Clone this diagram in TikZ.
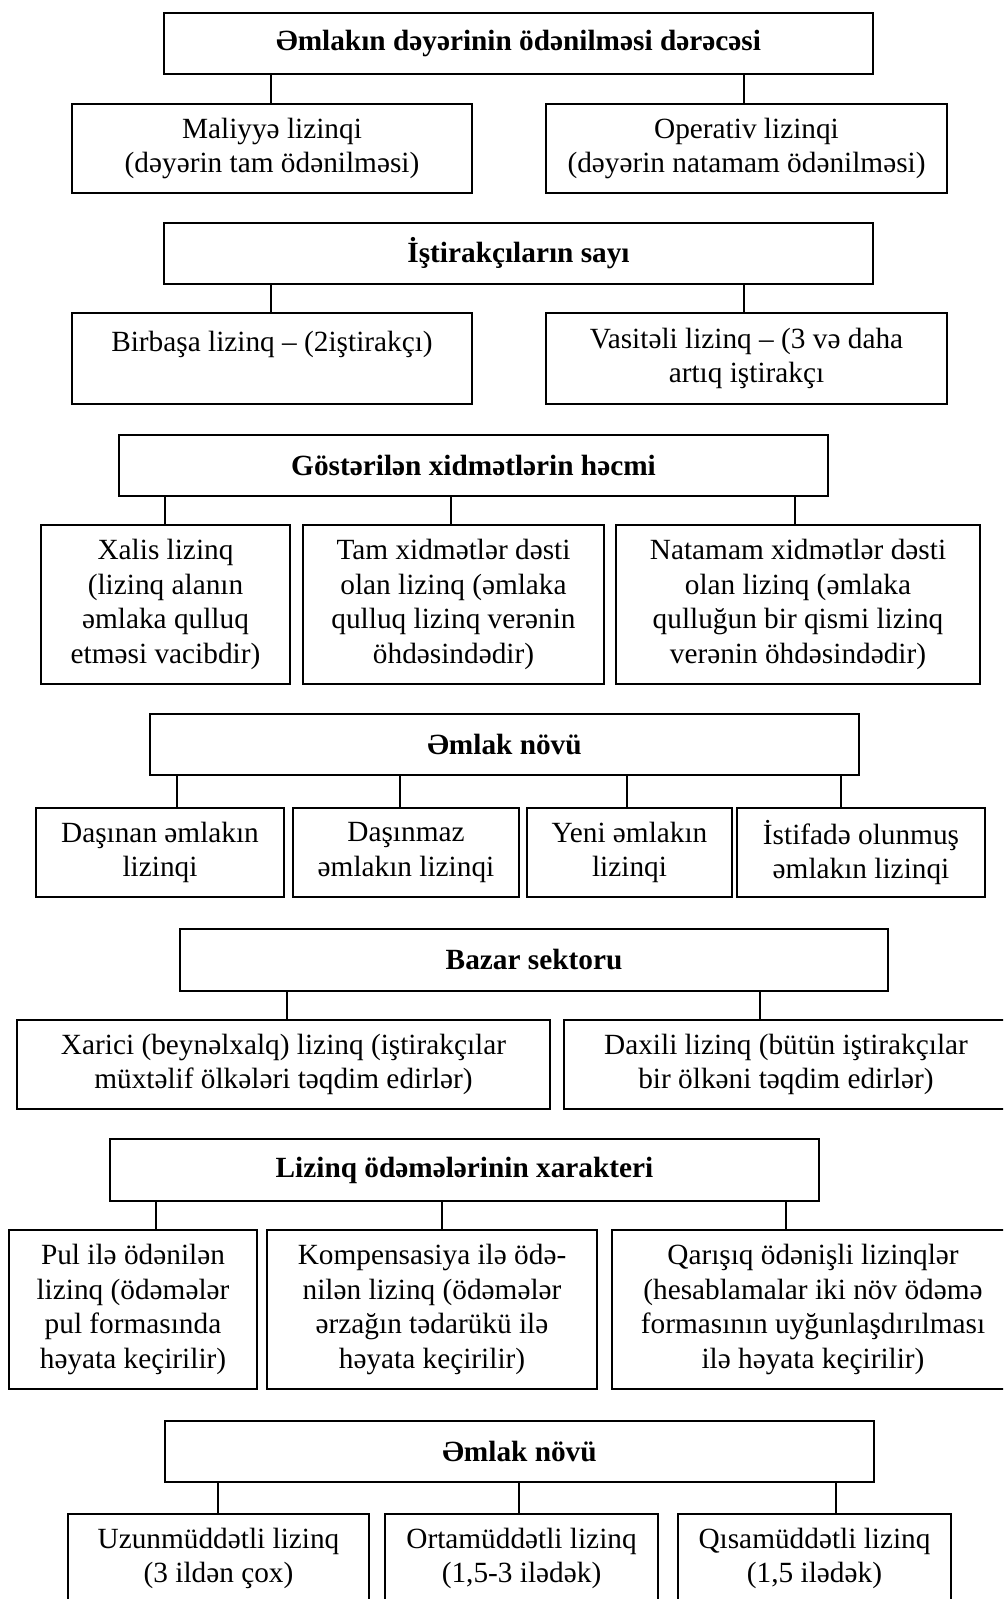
\documentclass[tikz,border=0pt]{standalone}
\usepackage{fontspec}
\setmainfont{Liberation Serif}
\newcommand{\lzfont}{\fontsize{14.65pt}{17.2pt}\selectfont}
\def\lzu{0.5pt}
\tikzset{
  lzbox/.style={draw, line width=0.9pt, align=center, inner sep=0pt, font=\lzfont},
  lzhead/.style={lzbox, font=\lzfont\bfseries},
  lzlink/.style={line width=0.9pt},
}
% box from its corners (x1,y1) to (x2,y2), in pixels of the page
\newcommand{\putbox}[7][lzbox]{%
  \node[#1, minimum width={(#5-#3)*\lzu}, minimum height={(#6-#4)*\lzu}]
    (#2) at ({(#3+#5)/2},{(#4+#6)/2}) {#7};}
\begin{document}
\begin{tikzpicture}[x=\lzu, y=-\lzu]
\clip (0,0) rectangle (1003,1599);
\fill[white] (0,0) rectangle (1003,1599);
% Degree of payment of the value
\putbox[lzhead]{a}{164}{13}{873}{74}{Əmlakın dəyərinin ödənilməsi dərəcəsi}
\putbox{a1}{72}{104}{472}{193}{Maliyyə lizinqi\\(dəyərin tam ödənilməsi)}
\putbox{a2}{546}{104}{947}{193}{Operativ lizinqi\\(dəyərin natamam ödənilməsi)}
\draw[lzlink] (a.south -| 271,0) -- (a1.north -| 271,0);
\draw[lzlink] (a.south -| 744,0) -- (a2.north -| 744,0);
% Participants
\putbox[lzhead]{b}{164}{223}{873}{284}{İştirakçıların sayı}
\putbox{b1}{72}{313}{472}{404}{Birbaşa lizinq – (2iştirakçı)\\ \mbox{}}
\putbox{b2}{546}{313}{947}{404}{Vasitəli lizinq – (3 və daha\\artıq iştirakçı}
\draw[lzlink] (b.south -| 271,0) -- (b1.north -| 271,0);
\draw[lzlink] (b.south -| 744,0) -- (b2.north -| 744,0);
% Services
\putbox[lzhead]{c}{119}{435}{828}{496}{Göstərilən xidmətlərin həcmi}
\putbox{c1}{41}{525}{290}{684}{Xalis lizinq\\(lizinq alanın\\əmlaka qulluq\\etməsi vacibdir)}
\putbox{c2}{303}{525}{604}{684}{Tam xidmətlər dəsti\\olan lizinq (əmlaka\\qulluq lizinq verənin\\öhdəsindədir)}
\putbox{c3}{616}{525}{980}{684}{Natamam xidmətlər dəsti\\olan lizinq (əmlaka\\qulluğun bir qismi lizinq\\verənin öhdəsindədir)}
\draw[lzlink] (c.south -| 165,0) -- (c1.north -| 165,0);
\draw[lzlink] (c.south -| 451,0) -- (c2.north -| 451,0);
\draw[lzlink] (c.south -| 795,0) -- (c3.north -| 795,0);
% Property type
\putbox[lzhead]{d}{150}{714}{859}{775}{Əmlak növü}
\putbox{d1}{36}{808}{284}{897}{Daşınan əmlakın\\lizinqi}
\putbox{d2}{293}{808}{519}{897}{Daşınmaz\\əmlakın lizinqi}
\putbox{d3}{527}{808}{732}{897}{Yeni əmlakın\\lizinqi}
\putbox{d4}{737}{808}{985}{897}{İstifadə olunmuş\\əmlakın lizinqi}
\draw[lzlink] (d.south -| 177,0) -- (d1.north -| 177,0);
\draw[lzlink] (d.south -| 400,0) -- (d2.north -| 400,0);
\draw[lzlink] (d.south -| 627,0) -- (d3.north -| 627,0);
\draw[lzlink] (d.south -| 841,0) -- (d4.north -| 841,0);
% Market sector
\putbox[lzhead]{e}{180}{929}{888}{991}{Bazar sektoru}
\putbox{e1}{17}{1020}{550}{1109}{Xarici (beynəlxalq) lizinq (iştirakçılar\\müxtəlif ölkələri təqdim edirlər)}
\putbox{e2}{564}{1020}{1008}{1109}{Daxili lizinq (bütün iştirakçılar\\bir ölkəni təqdim edirlər)}
\draw[lzlink] (e.south -| 287,0) -- (e1.north -| 287,0);
\draw[lzlink] (e.south -| 760,0) -- (e2.north -| 760,0);
% Payments
\putbox[lzhead]{f}{110}{1139}{819}{1201}{Lizinq ödəmələrinin xarakteri}
\putbox{f1}{9}{1230}{257}{1389}{Pul ilə ödənilən\\lizinq (ödəmələr\\pul formasında\\həyata keçirilir)}
\putbox{f2}{267}{1230}{597}{1389}{Kompensasiya ilə ödə-\\nilən lizinq (ödəmələr\\ərzağın tədarükü ilə\\həyata keçirilir)}
\putbox{f3}{612}{1230}{1014}{1389}{Qarışıq ödənişli lizinqlər\\(hesablamalar iki növ ödəmə\\formasının uyğunlaşdırılması\\ilə həyata keçirilir)}
\draw[lzlink] (f.south -| 156,0) -- (f1.north -| 156,0);
\draw[lzlink] (f.south -| 442,0) -- (f2.north -| 442,0);
\draw[lzlink] (f.south -| 786,0) -- (f3.north -| 786,0);
% Term
\putbox[lzhead]{g}{165}{1421}{874}{1482}{Əmlak növü}
\putbox{g1}{68}{1514}{369}{1603}{Uzunmüddətli lizinq\\(3 ildən çox)}
\putbox{g2}{385}{1514}{658}{1603}{Ortamüddətli lizinq\\(1,5-3 ilədək)}
\putbox{g3}{678}{1514}{951}{1603}{Qısamüddətli lizinq\\(1,5 ilədək)}
\draw[lzlink] (g.south -| 218,0) -- (g1.north -| 218,0);
\draw[lzlink] (g.south -| 519,0) -- (g2.north -| 519,0);
\draw[lzlink] (g.south -| 836,0) -- (g3.north -| 836,0);
\end{tikzpicture}
\end{document}
